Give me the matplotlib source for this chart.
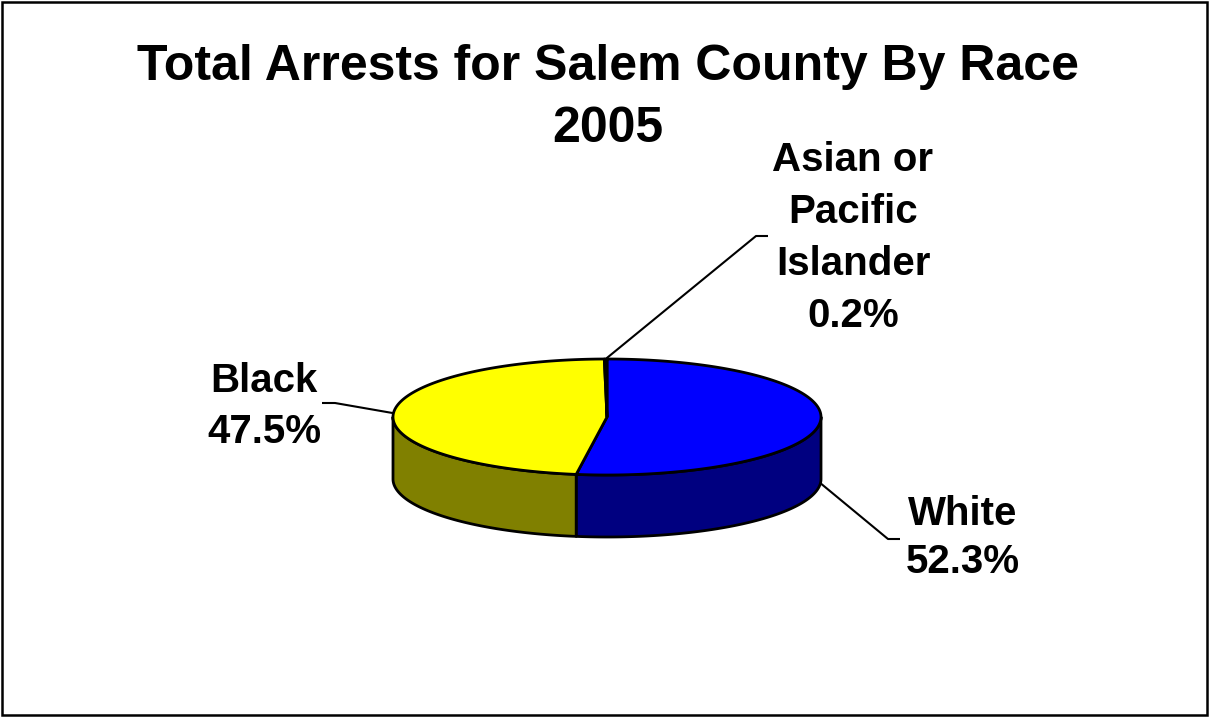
import numpy as np
import matplotlib
matplotlib.use("Agg")
import matplotlib.pyplot as plt
from matplotlib.patches import Polygon, Rectangle

# ---------------- data ----------------
categories = ["White", "Black", "Asian or Pacific Islander"]
values = [52.3, 47.5, 0.2]
label_lines = [["White", "52.3%"],
               ["Black", "47.5%"],
               ["Asian or", "Pacific", "Islander", "0.2%"]]
title_lines = ["Total Arrests for Salem County By Race", "2005"]

# ---------------- styles / layout ----------------
top_colors = ["#0000FF", "#FFFF00", "#FF00FF"]
side_colors = ["#000080", "#808000", "#800080"]
FONT = "Liberation Sans"

W, H = 1209, 717
fig = plt.figure(figsize=(W / 100, H / 100), dpi=100)
ax = fig.add_axes([0, 0, 1, 1])
ax.set_xlim(0, W)
ax.set_ylim(H, 0)
ax.axis("off")

cx, cy = 607, 417      # centre of the top face
a, b = 214, 58         # ellipse semi-axes
depth = 62             # thickness of the pie


def rim(theta_deg, dy=0.0):
    t = np.radians(theta_deg)
    return cx + a * np.cos(t), cy - b * np.sin(t) + dy


def arc(t_from, t_to, dy=0.0, n=None):
    if n is None:
        n = max(2, int(abs(t_to - t_from) * 2) + 2)
    ts = np.linspace(t_from, t_to, n)
    xs, ys = rim(ts, dy)
    return np.column_stack([xs, ys])


total = float(sum(values))
cum = np.concatenate([[0.0], np.cumsum(values)]) / total * 360.0
# clockwise from 12 o'clock -> math angle theta = 90 - phi
theta_start = 90.0 - cum[:-1]
theta_end = 90.0 - cum[1:]

lw = 2.0
# side faces (front half only)
for i in range(len(values)):
    hi, lo = theta_start[i], theta_end[i]
    for k in range(-2, 2):
        s_lo = max(lo, 180 + 360 * k)
        s_hi = min(hi, 360 + 360 * k)
        if s_lo < s_hi:
            top = arc(s_hi, s_lo)
            bot = arc(s_lo, s_hi, dy=depth)
            ax.add_patch(Polygon(np.vstack([top, bot]), closed=True,
                                 facecolor=side_colors[i], edgecolor="black",
                                 linewidth=lw, joinstyle="round", zorder=1))

# top faces
for i in range(len(values)):
    pts = np.vstack([[cx, cy], arc(theta_start[i], theta_end[i])])
    ax.add_patch(Polygon(pts, closed=True, facecolor=top_colors[i],
                         edgecolor="black", linewidth=lw,
                         joinstyle="round", zorder=2))

# leader lines and labels
mid = (theta_start + theta_end) / 2.0
leader_dy = [depth, 0, 0]                      # white from bottom rim
elbows = [[(888, 539), (900, 539)],
          [(335, 403), (322, 403)],
          [(756, 236), (768, 236)]]
label_pos = [(963, 525, 48), (264, 392, 51), (853, 171, 52)]  # x, first baseline, line step

for i in range(len(values)):
    sx, sy = rim(mid[i], leader_dy[i])
    xs = [sx] + [p[0] for p in elbows[i]]
    ys = [sy] + [p[1] for p in elbows[i]]
    ax.plot(xs, ys, color="black", linewidth=1.5, zorder=3,
            solid_capstyle="butt")
    x0, y0, step = label_pos[i]
    for j, line in enumerate(label_lines[i]):
        ax.text(x0, y0 + j * step, line, ha="center", va="baseline",
                fontsize=29, fontweight="bold", family=FONT, zorder=4)

# title
for j, line in enumerate(title_lines):
    ax.text(608, 80 + j * 62, line, ha="center", va="baseline",
            fontsize=36, fontweight="bold", family=FONT)

# chart border
ax.add_patch(Rectangle((2, 2), W - 4, H - 4, fill=False, edgecolor="black",
                       linewidth=1.8, zorder=5))

fig.savefig("out.png", dpi=100)
